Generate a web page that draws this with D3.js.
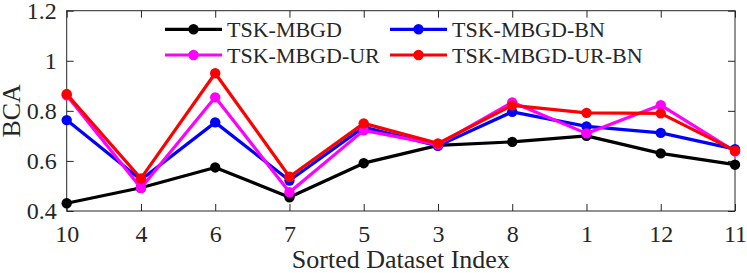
<!DOCTYPE html>
<html>
<head>
<meta charset="utf-8">
<script src="https://cdn.jsdelivr.net/npm/d3@7"></script>
<style>
  body { margin: 0; background: #fff; }
  text { font-family: "Liberation Serif", "Times New Roman", serif; fill: #262626; }
</style>
</head>
<body>
<div id="chart"></div>
<script>
// sorted dataset indices (x categories)
var datasets = ["10", "4", "6", "7", "5", "3", "8", "1", "12", "11"];
var yTicks = [0.4, 0.6, 0.8, 1, 1.2];

var mbgd      = [0.431, 0.493, 0.574, 0.455, 0.591, 0.662, 0.676, 0.700, 0.630, 0.585];
var mbgdBN    = [0.763, 0.525, 0.754, 0.522, 0.735, 0.660, 0.796, 0.738, 0.712, 0.647];
var mbgdUR    = [0.862, 0.492, 0.854, 0.475, 0.722, 0.665, 0.834, 0.710, 0.823, 0.638];
var mbgdURBN  = [0.867, 0.530, 0.950, 0.537, 0.750, 0.670, 0.822, 0.792, 0.790, 0.641];

var seriesNames  = ["TSK-MBGD", "TSK-MBGD-BN", "TSK-MBGD-UR", "TSK-MBGD-UR-BN"];
var seriesColors = ["#000000", "#0000ff", "#ff00ff", "#ff0000"];

var series = [
  {name: seriesNames[0], color: seriesColors[0], values: mbgd},
  {name: seriesNames[1], color: seriesColors[1], values: mbgdBN},
  {name: seriesNames[2], color: seriesColors[2], values: mbgdUR},
  {name: seriesNames[3], color: seriesColors[3], values: mbgdURBN}
];

var W = 747, H = 273;
var margin = {top: 10.7, right: 12, bottom: 62, left: 66.7};
var width = W - margin.left - margin.right,
    height = H - margin.top - margin.bottom;

var serif = "'Liberation Serif', 'Times New Roman', serif";

var svg = d3.select("#chart").append("svg")
  .attr("width", W)
  .attr("height", H);

var g = svg.append("g")
  .attr("transform", "translate(" + margin.left + "," + margin.top + ")");

var x = d3.scalePoint()
  .domain(datasets)
  .range([0, width])
  .padding(0);

var y = d3.scaleLinear()
  .domain([0.4, 1.2])
  .range([height, 0]);

var axisColor = "#262626";
var tickLen = 7;

// box
g.append("rect")
  .attr("x", 0).attr("y", 0)
  .attr("width", width).attr("height", height)
  .attr("fill", "none")
  .attr("stroke", axisColor)
  .attr("stroke-width", 1);

// bottom axis (inward ticks)
g.append("g")
  .attr("transform", "translate(0," + height + ")")
  .call(d3.axisBottom(x).tickSizeInner(-tickLen).tickSizeOuter(0).tickPadding(14));
// top ticks
g.append("g")
  .call(d3.axisTop(x).tickSizeInner(-tickLen).tickSizeOuter(0).tickFormat(""));
// left axis
g.append("g")
  .call(d3.axisLeft(y).tickValues(yTicks).tickFormat(d3.format("~g"))
    .tickSizeInner(-tickLen).tickSizeOuter(0).tickPadding(10));
// right ticks
g.append("g")
  .attr("transform", "translate(" + width + ",0)")
  .call(d3.axisRight(y).tickValues(yTicks).tickFormat("")
    .tickSizeInner(-tickLen).tickSizeOuter(0));

g.selectAll(".domain").remove();
g.selectAll("g").attr("font-family", serif);
g.selectAll(".tick line").attr("stroke", axisColor);
g.selectAll(".tick text")
  .style("font-family", serif)
  .style("font-size", "24px")
  .attr("fill", axisColor);

// axis labels
svg.append("text")
  .attr("x", margin.left + width / 2)
  .attr("y", 268)
  .attr("text-anchor", "middle")
  .style("font-size", "26px")
  .text("Sorted Dataset Index");

svg.append("text")
  .attr("transform", "translate(20," + (margin.top + height / 2) + ") rotate(-90)")
  .attr("text-anchor", "middle")
  .style("font-size", "26px")
  .text("BCA");

// lines
var line = d3.line()
  .x(function(d, i) { return x(datasets[i]); })
  .y(function(d) { return y(d); });

var plot = g.append("g");

series.forEach(function(s) {
  plot.append("path")
    .datum(s.values)
    .attr("fill", "none")
    .attr("stroke", s.color)
    .attr("stroke-width", 3.2)
    .attr("stroke-linejoin", "round")
    .attr("d", line);

  plot.selectAll(null)
    .data(s.values)
    .join("circle")
    .attr("cx", function(d, i) { return x(datasets[i]); })
    .attr("cy", function(d) { return y(d); })
    .attr("r", 5.2)
    .attr("fill", s.color);
});

// legend (2 columns, no box)
var legendPos = [
  {x: 165, y: 29.3},
  {x: 390, y: 29.3},
  {x: 165, y: 55},
  {x: 390, y: 55}
];

var legend = svg.append("g");
series.forEach(function(s, i) {
  var p = legendPos[i];
  var item = legend.append("g").attr("transform", "translate(" + p.x + "," + p.y + ")");
  item.append("line")
    .attr("x1", 0).attr("x2", 57)
    .attr("y1", 0).attr("y2", 0)
    .attr("stroke", s.color)
    .attr("stroke-width", 3.2);
  item.append("circle")
    .attr("cx", 28.5).attr("cy", 0)
    .attr("r", 5.2)
    .attr("fill", s.color);
  item.append("text")
    .attr("x", 62)
    .attr("y", 0)
    .attr("dy", "0.35em")
    .style("font-size", "22px")
    .text(s.name);
});
</script>
</body>
</html>
